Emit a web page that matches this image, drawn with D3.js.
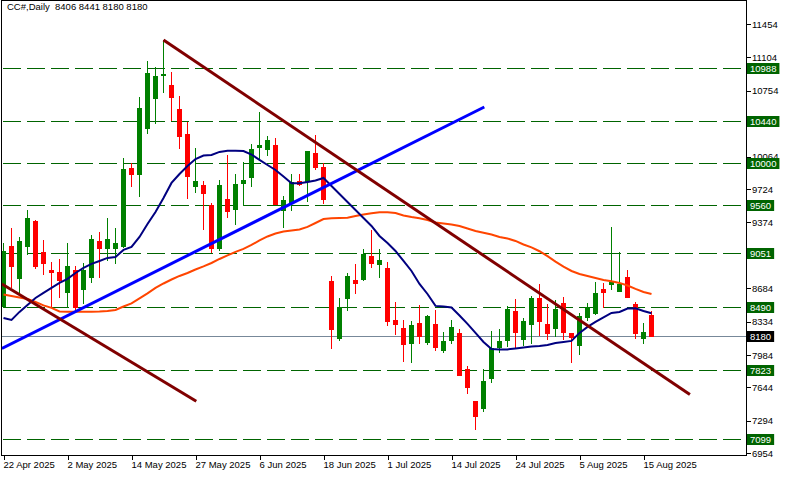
<!DOCTYPE html>
<html><head><meta charset="utf-8">
<script src="https://cdn.jsdelivr.net/npm/d3@7"></script>
<style>
html,body{margin:0;padding:0;background:#fff;}
svg{display:block;}
text{font-family:"Liberation Sans",Arial,sans-serif;}
</style></head>
<body>
<svg id="c" width="786" height="477"></svg>
<script>
const dates = ["22 Apr","23 Apr","24 Apr","25 Apr","28 Apr","29 Apr","30 Apr",
"1 May","2 May","5 May","6 May","7 May","8 May","9 May","12 May","13 May","14 May","15 May","16 May","19 May","20 May","21 May","22 May","23 May","27 May","28 May","29 May","30 May",
"2 Jun","3 Jun","4 Jun","5 Jun","6 Jun","9 Jun","10 Jun","11 Jun","12 Jun","13 Jun","16 Jun","17 Jun","18 Jun","20 Jun","23 Jun","24 Jun","25 Jun","26 Jun","27 Jun","30 Jun",
"1 Jul","2 Jul","3 Jul","7 Jul","8 Jul","9 Jul","10 Jul","11 Jul","14 Jul","15 Jul","16 Jul","17 Jul","18 Jul","21 Jul","22 Jul","23 Jul","24 Jul","25 Jul","28 Jul","29 Jul","30 Jul","31 Jul",
"1 Aug","4 Aug","5 Aug","6 Aug","7 Aug","8 Aug","11 Aug","12 Aug","13 Aug","14 Aug","15 Aug","18 Aug"];

const open  = [8499,9128,8795,9131,9389,9068,8876,8855,8649,8876,8680,8806,9180,9110,9110,9127,9942,9879,10367,10682,10915,10815,10563,10301,9759,9767,9557,9103,9620,9515,9784,9854,10168,10144,10186,9505,9592,9809,9812,10105,9952,8761,8160,8579,8771,8778,9023,8936,8894,8352,8265,8108,8317,8118,8310,8038,8142,8213,7835,7506,7433,7747,8072,8142,8446,8153,8310,8586,8310,8271,8527,8213,8090,8387,8422,8677,8726,8659,8799,8517,8167,8406];
const high  = [9162,9313,9225,9505,9400,9190,8963,8991,9156,8918,8946,9243,9271,9424,9313,10053,10000,10692,11066,11007,11286,10948,10699,10424,10158,9809,9575,9819,10081,9882,10011,10196,10529,10280,10256,9655,9882,9882,10123,10291,10000,8816,8579,8841,8936,9096,9295,9096,8957,8537,8352,8341,8505,8404,8457,8229,8352,8254,7870,7506,7838,8237,8257,8499,8569,8376,8603,8729,8520,8561,8590,8216,8422,8527,8753,8743,9330,9061,8876,8544,8317,8441];
const low   = [8490,8695,8632,9040,8900,8834,8491,8590,8491,8439,8527,8753,8799,8981,8946,9120,9759,9655,10309,10413,10744,10448,10151,9634,9690,9306,9065,9086,9435,9355,9557,9759,10029,10081,9568,9330,9505,9767,9602,9931,9575,8055,8142,8457,8632,8771,8904,8799,8300,8205,7922,7909,8108,8100,8038,8020,8108,7775,7590,7210,7398,7699,8020,8083,8062,8090,8108,8195,8150,8184,8150,7915,7996,8352,8415,8491,8674,8659,8596,8160,8114,8180];
const close = [9075,8918,9180,9424,8918,8952,8855,8771,8918,8491,8876,9198,9110,9198,9162,9934,9882,10577,10937,10909,10925,10692,10283,9864,9809,9680,9107,9767,9497,9777,9819,10144,10186,10238,9568,9610,9801,9777,10123,9952,9617,8254,8491,8813,8737,9044,8946,8981,8345,8307,8097,8300,8187,8394,8072,8132,8275,7775,7653,7346,7716,8055,8132,8467,8229,8341,8586,8341,8213,8467,8229,8177,8397,8491,8632,8649,8753,8729,8596,8219,8223,8180];

const maFast = [8373,8352,8436,8509,8582,8635,8687,8740,8782,8844,8897,8939,8970,9002,9012,9086,9117,9222,9358,9484,9630,9788,9882,9966,10039,10076,10081,10113,10126,10126,10123,10086,10029,9976,9924,9856,9785,9785,9798,9814,9840,9756,9672,9589,9505,9421,9337,9232,9159,9075,8970,8865,8729,8624,8499,8493,8483,8399,8310,8216,8121,8048,8043,8043,8053,8064,8074,8079,8090,8111,8121,8132,8216,8279,8331,8378,8425,8436,8472,8475,8446,8422];
const maSlow = [8619,8603,8588,8572,8541,8504,8478,8441,8439,8439,8439,8439,8441,8446,8457,8493,8525,8577,8630,8687,8734,8776,8813,8844,8881,8913,8949,8991,9028,9065,9096,9138,9185,9227,9258,9279,9290,9300,9327,9368,9410,9418,9421,9424,9442,9458,9470,9481,9481,9473,9447,9431,9418,9400,9374,9363,9353,9337,9311,9285,9266,9248,9222,9206,9180,9143,9112,9072,9020,8963,8910,8865,8834,8813,8792,8771,8757,8740,8713,8677,8645,8624];

const levels = [10988,10440,10000,9560,9051,8490,7823,7099];
const lastPrice = 8180;
const priceTicks = [11454,11104,10754,10414,10064,9724,9374,9034,8684,8334,7984,7644,7294,6954];
const dateTickIdx = [0,8,16,24,32,40,48,56,64,72,80];
const dateTickLabels = ["22 Apr 2025","2 May 2025","14 May 2025","27 May 2025","6 Jun 2025","18 Jun 2025","1 Jul 2025","14 Jul 2025","24 Jul 2025","5 Aug 2025","15 Aug 2025"];

// trend lines: [barIndex, price] pairs
const trendDown1 = [[20,11286],[85.8,7571]];
const trendDown2 = [[-0.2,8729],[24.1,7500]];
const trendUp    = [[-0.2,8053],[60.1,10584]];

const title = "CC#,Daily  8406 8441 8180 8180";

const svg = d3.select("#c");
const L = 1.5, R = 746.5, T = 0.5, B = 455.5;
const x = d3.scaleLinear().domain([0,81]).range([3.5,651.5]);
const y = d3.scaleLinear().domain([6954,11454]).range([453.3,24]);

svg.append("defs").append("clipPath").attr("id","clip")
  .append("rect").attr("x",L+0.5).attr("y",T+0.5).attr("width",R-L-1).attr("height",B-T-1);
const plot = svg.append("g").attr("clip-path","url(#clip)");

const ry = v => Math.round(y(v)) + 0.5;

// horizontal dashed levels
plot.selectAll("line.lvl").data(levels).join("line")
  .attr("x1",3).attr("x2",R).attr("y1",d=>ry(d)).attr("y2",d=>ry(d))
  .attr("stroke","#006400").attr("stroke-width",1).attr("stroke-dasharray","18,6")
  .attr("shape-rendering","crispEdges");

// last price line
plot.append("line").attr("x1",L).attr("x2",R).attr("y1",ry(lastPrice)).attr("y2",ry(lastPrice))
  .attr("stroke","#778899").attr("stroke-width",1).attr("shape-rendering","crispEdges");

// candles
const idx = d3.range(open.length);
const cg = plot.append("g").attr("shape-rendering","crispEdges");
idx.forEach(i=>{
  const up = close[i] >= open[i];
  const col = up ? "#008000" : "#ff0000";
  const cx = x(i);
  cg.append("line").attr("x1",cx).attr("x2",cx)
    .attr("y1",Math.round(y(high[i]))).attr("y2",Math.round(y(low[i]))+1)
    .attr("stroke",col).attr("stroke-width",1);
  const yt = Math.round(y(Math.max(open[i],close[i])));
  const yb = Math.round(y(Math.min(open[i],close[i])));
  cg.append("rect").attr("x",cx-2.5).attr("y",yt).attr("width",5).attr("height",Math.max(1,yb-yt+1))
    .attr("fill",col);
});

// moving averages
const line = d3.line().x((d,i)=>x(i)).y(d=>y(d));
plot.append("path").datum(maSlow).attr("d",line).attr("fill","none").attr("stroke","#ff4500").attr("stroke-width",2);
plot.append("path").datum(maFast).attr("d",line).attr("fill","none").attr("stroke","#000080").attr("stroke-width",2);

// trend lines
const tl = d3.line().x(d=>x(d[0])).y(d=>y(d[1]));
plot.append("path").datum(trendUp).attr("d",tl).attr("stroke","#0000ff").attr("stroke-width",3).attr("fill","none");
plot.append("path").datum(trendDown1).attr("d",tl).attr("stroke","#800000").attr("stroke-width",3).attr("fill","none");
plot.append("path").datum(trendDown2).attr("d",tl).attr("stroke","#800000").attr("stroke-width",3).attr("fill","none");

// frame
svg.append("rect").attr("x",L).attr("y",T).attr("width",R-L).attr("height",B-T)
  .attr("fill","none").attr("stroke","#000").attr("stroke-width",1).attr("shape-rendering","crispEdges");

// right price axis
const ya = d3.axisRight(y).tickValues(priceTicks).tickSize(4).tickFormat(d3.format("d"));
const yg = svg.append("g").attr("transform",`translate(${R},0)`).call(ya);
yg.select(".domain").remove();
yg.selectAll(".tick line").attr("stroke","#000").attr("shape-rendering","crispEdges");
yg.selectAll(".tick text").attr("x",5.5).attr("font-size","9.5px").attr("fill","#000")
  .attr("font-family","'Liberation Sans',Arial,sans-serif");

// level boxes
function box(v, bg){
  const g = svg.append("g");
  const yy = ry(v);
  const t = g.append("text").attr("x",750).attr("y",yy).attr("dy","0.35em")
    .attr("font-size","9.5px").attr("fill","#fff").text(d3.format("d")(v));
  const w = t.node().getComputedTextLength();
  g.insert("rect","text").attr("x",747).attr("y",yy-5.5).attr("width",w+6).attr("height",11).attr("fill",bg);
}
levels.forEach(v=>box(v,"#006400"));
box(lastPrice,"#000");

// bottom date axis
const xa = d3.axisBottom(x).tickValues(dateTickIdx).tickSize(4)
  .tickFormat((d,i)=>dateTickLabels[i]);
const xg = svg.append("g").attr("transform",`translate(0,${B})`).call(xa);
xg.select(".domain").remove();
xg.selectAll(".tick line").attr("stroke","#000").attr("shape-rendering","crispEdges");
xg.selectAll(".tick text").attr("text-anchor","start").attr("x",-0.5).attr("y",6).attr("dy","0.71em")
  .attr("font-size","9.5px").attr("fill","#000").attr("font-family","'Liberation Sans',Arial,sans-serif");

// title
svg.append("text").attr("x",7).attr("y",10).attr("font-size","9.5px").attr("fill","#000")
  .style("white-space","pre").attr("xml:space","preserve").text(title);
</script>
</body></html>
